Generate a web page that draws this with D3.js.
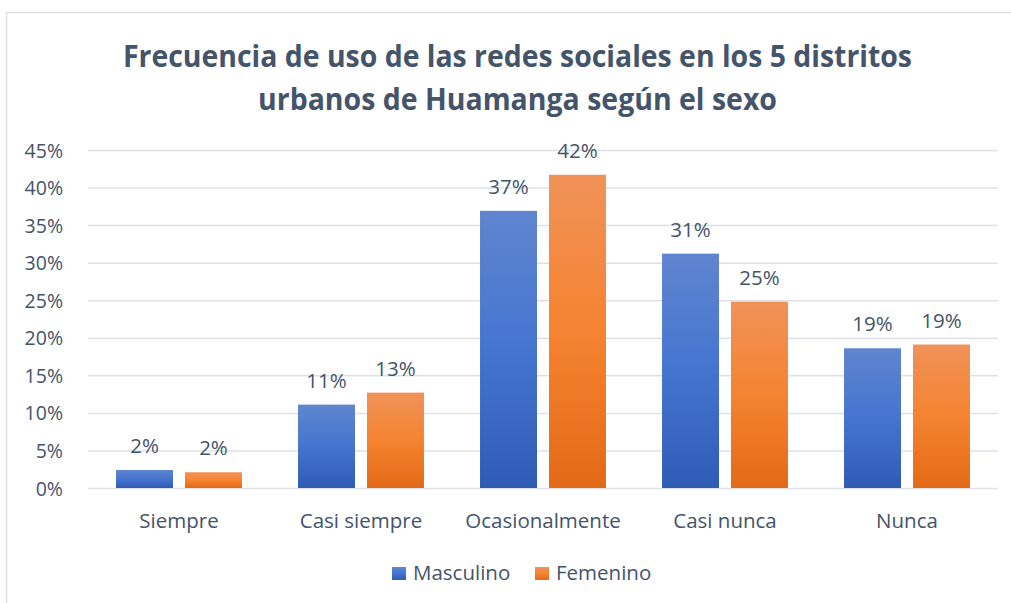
<!DOCTYPE html>
<html><head><meta charset="utf-8">
<script src="https://cdn.jsdelivr.net/npm/d3@7"></script>
<style>
html,body{margin:0;padding:0;background:#fff;}
svg{display:block;font-family:"Open Sans",sans-serif;}
</style></head>
<body>
<svg id="chart" width="1011" height="603"></svg>
<script>
const titleLines = ["Frecuencia de uso de las redes sociales en los 5 distritos", "urbanos de Huamanga según el sexo"];
const categories = ["Siempre", "Casi siempre", "Ocasionalmente", "Casi nunca", "Nunca"];
const seriesNames = ["Masculino", "Femenino"];
const masculino = [0.024, 0.111, 0.369, 0.312, 0.186];
const femenino = [0.021, 0.127, 0.417, 0.248, 0.191];
const tickValues = [0, 0.05, 0.10, 0.15, 0.20, 0.25, 0.30, 0.35, 0.40, 0.45];
const dataLabels = [["2%","11%","37%","31%","19%"],["2%","13%","42%","25%","19%"]];

(function () {
const svg = d3.select("#chart");
const W = 1011, H = 603;
const textColor = "#44546A";

// frame
svg.append("rect").attr("x", 6.5).attr("y", 12.5).attr("width", W).attr("height", H)
  .attr("fill", "#fff").attr("stroke", "#DDE1E6").attr("stroke-width", 1.5);

// gradients
const defs = svg.append("defs");
const grads = [
  {id: "gBlue", stops: ["#5F85CF", "#4574D0", "#2E5BB4"]},
  {id: "gOrange", stops: ["#F09258", "#F58331", "#E36A16"]}
];
grads.forEach(g => {
  const lg = defs.append("linearGradient").attr("id", g.id).attr("x1", 0).attr("y1", 0).attr("x2", 0).attr("y2", 1);
  lg.append("stop").attr("offset", "0%").attr("stop-color", g.stops[0]);
  lg.append("stop").attr("offset", "50%").attr("stop-color", g.stops[1]);
  lg.append("stop").attr("offset", "100%").attr("stop-color", g.stops[2]);
});

// title
const titleW = [789, 519];
const titleY = [67, 110];
titleLines.forEach((t, i) => {
  svg.append("text").attr("x", W / 2 + 12).attr("y", titleY[i]).attr("text-anchor", "middle")
    .attr("font-size", 31).attr("font-weight", 700).attr("fill", textColor)
    .attr("textLength", titleW[i]).attr("lengthAdjust", "spacingAndGlyphs")
    .text(t);
});

const pLeft = 88, pRight = 998, pTop = 150, pBottom = 488;
const x0 = d3.scaleBand().domain(categories).range([pLeft, pRight]).paddingInner(0.308).paddingOuter(0.154);
const x1 = d3.scaleBand().domain(seriesNames).range([0, x0.bandwidth()]).paddingInner(0.174);
const y = d3.scaleLinear().domain([0, 0.45]).range([pBottom, pTop]);

// grid
const yAxis = d3.axisLeft(y).tickValues(tickValues).tickFormat(d3.format(".0%")).tickSize(-(pRight - pLeft)).tickPadding(25);
const gy = svg.append("g").attr("transform", `translate(${pLeft},0)`).call(yAxis);
gy.select(".domain").remove();
gy.selectAll(".tick line").attr("stroke", "#DDE1E6").attr("stroke-width", 1.5);
gy.selectAll(".tick text").attr("fill", textColor).attr("font-size", 19.5).attr("font-family", "Open Sans").attr("dy", "0.36em");

// bars
const series = [masculino, femenino];
series.forEach((vals, si) => {
  svg.append("g").selectAll("rect").data(vals).join("rect")
    .attr("x", (d, i) => x0(categories[i]) + x1(seriesNames[si]))
    .attr("y", d => y(d))
    .attr("width", x1.bandwidth())
    .attr("height", d => y(0) - y(d))
    .attr("fill", `url(#${grads[si].id})`);
  svg.append("g").selectAll("text").data(vals).join("text")
    .attr("x", (d, i) => x0(categories[i]) + x1(seriesNames[si]) + x1.bandwidth() / 2)
    .attr("y", d => y(d) - 17)
    .attr("text-anchor", "middle").attr("font-size", 20.5).attr("fill", textColor)
    .text((d, i) => dataLabels[si][i]);
});

// category axis labels
const xAxis = d3.axisBottom(x0).tickSize(0).tickPadding(0);
const gx = svg.append("g").attr("transform", `translate(0,${pBottom})`).call(xAxis);
gx.select(".domain").remove();
gx.selectAll(".tick text").attr("fill", textColor).attr("font-size", 20.5).attr("font-family", "Open Sans")
  .attr("dy", 0).attr("y", 40);

// legend
const legendX = [392, 535];
seriesNames.forEach((s, i) => {
  const g = svg.append("g").attr("transform", `translate(${legendX[i]},567)`);
  g.append("rect").attr("width", 14).attr("height", 13).attr("fill", `url(#${grads[i].id})`);
  g.append("text").attr("x", 21).attr("y", 12.5).attr("font-size", 20.5).attr("fill", textColor).text(s);
});
})();
</script>
</body></html>
